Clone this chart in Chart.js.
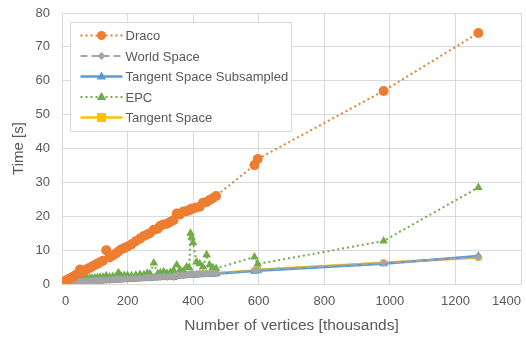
<!DOCTYPE html>
<html><head><meta charset="utf-8">
<script src="https://cdn.jsdelivr.net/npm/chart.js@4/dist/chart.umd.min.js"></script>
<style>html,body{margin:0;padding:0;background:#fff}#wrap{width:526px;height:341px}</style>
</head><body><div id="wrap"><canvas id="c" width="526" height="341"></canvas></div>
<script>
const vertices = [10,14,18,22,26,30,35,40,45,50,55,60,66,72,78,85,92,100,108,116,125,135,145,155,165,172,180,190,200,212,225,238,250,260,268,280,292,300,310,320,330,340,350,360,370,380,388,392,395,400,410,420,430,441,450,460,470,587,597,981,1270];
const draco = [0.8,1.1,1.3,1.5,1.7,1.9,2.2,2.5,2.8,3.0,4.3,3.5,3.8,4.1,4.5,4.8,5.2,5.6,6.0,6.4,6.9,10.0,7.8,8.4,9.1,9.6,10.2,10.6,11.1,11.7,12.6,13.4,14.2,14.6,15.0,16.0,16.3,17.2,17.6,17.8,18.3,18.8,20.8,20.5,21.4,21.5,21.8,22.0,22.2,22.3,22.6,22.8,24.0,24.2,24.8,25.3,26.0,35.1,36.9,57.0,74.1];
const worldSpace = [0.3,0.4,0.4,0.5,0.5,0.5,0.6,0.6,0.6,0.7,0.7,0.7,0.8,0.8,0.8,0.9,0.9,1.0,1.0,1.1,1.1,1.2,1.2,1.3,1.3,1.4,1.4,1.5,1.5,1.6,1.7,1.7,1.8,1.9,1.9,2.0,2.0,2.1,2.2,2.1,2.2,2.1,2.5,2.6,2.6,2.7,2.8,2.8,2.8,2.9,2.9,3.0,3.0,3.1,3.1,3.2,3.2,4.0,4.2,6.2,7.9];
const subsampled = [0.2,0.2,0.3,0.3,0.3,0.4,0.4,0.4,0.5,0.5,0.5,0.6,0.6,0.6,0.7,0.7,0.8,0.8,0.9,0.9,1.0,1.0,1.1,1.1,1.2,1.2,1.3,1.3,1.4,1.4,1.5,1.6,1.6,1.7,1.7,1.8,1.9,1.9,2.0,1.9,2.0,1.9,2.3,2.4,2.4,2.5,2.5,2.6,2.6,2.6,2.7,2.7,2.8,2.8,2.9,2.9,3.0,3.8,3.9,6.0,8.3];
const epc = [0.6,0.7,0.8,0.9,1.0,1.0,1.1,1.2,1.2,1.3,1.4,1.4,1.5,1.5,1.6,1.7,1.7,1.8,1.9,2.0,2.0,2.4,2.1,2.2,2.3,3.3,2.4,2.5,2.5,2.4,2.6,2.8,2.7,3.2,3.0,6.2,3.0,3.3,3.6,3.2,3.4,4.0,5.6,4.2,3.8,5.0,4.8,15.0,13.8,12.2,6.5,6.0,5.0,8.6,5.6,4.8,4.6,8.0,5.9,12.7,28.5];
const tangentSpace = [0.3,0.4,0.4,0.5,0.5,0.5,0.6,0.6,0.6,0.7,0.7,0.7,0.8,0.8,0.8,0.9,0.9,1.0,1.0,1.1,1.1,1.2,1.2,1.3,1.3,1.4,1.4,1.5,1.5,1.6,1.7,1.7,1.8,1.9,1.9,2.0,2.0,2.1,2.2,2.1,2.2,2.1,2.5,2.6,2.6,2.7,2.8,2.8,2.8,2.9,2.9,3.0,3.0,3.1,3.1,3.2,3.2,4.0,4.2,6.3,7.8];
const seriesNames = ['Draco','World Space','Tangent Space Subsampled','EPC','Tangent Space'];
const xTicks = [0,200,400,600,800,1000,1200,1400];
const yTicks = [0,10,20,30,40,50,60,70,80];

const FONT = "'Liberation Sans', Arial, sans-serif";
const pts = arr => vertices.map((v,i)=>({x:v,y:arr[i]}));

const styles = [
  {color:'#ED7D31', dash:[2,3], width:2, pt:'circle', r:5},
  {color:'#A5A5A5', dash:[7,4], width:2, pt:'rectRot', r:4},
  {color:'#5B9BD5', dash:[], width:2.5, pt:'triangle', r:5},
  {color:'#70AD47', dash:[2,3], width:2, pt:'triangle', r:5},
  {color:'#FFC000', dash:[], width:2.5, pt:'rect', r:4.5}
];
const series = [draco, worldSpace, subsampled, epc, tangentSpace];

const datasets = series.map((s,i)=>({
  label: seriesNames[i],
  data: pts(s),
  borderColor: styles[i].color,
  backgroundColor: styles[i].color,
  borderDash: styles[i].dash,
  borderWidth: styles[i].width,
  pointStyle: styles[i].pt,
  pointRadius: styles[i].r,
  pointBorderWidth: 0,
  pointBackgroundColor: styles[i].color,
  showLine: true,
  tension: 0,
  fill: false
}));

function drawMarker(ctx, type, x, y, r, color){
  ctx.save();
  ctx.fillStyle = color;
  ctx.setLineDash([]);
  ctx.beginPath();
  if(type==='circle'){ ctx.arc(x,y,r,0,Math.PI*2); }
  else if(type==='rect'){ ctx.rect(x-r,y-r,2*r,2*r); }
  else if(type==='rectRot'){ ctx.moveTo(x,y-r); ctx.lineTo(x+r,y); ctx.lineTo(x,y+r); ctx.lineTo(x-r,y); ctx.closePath(); }
  else if(type==='triangle'){ ctx.moveTo(x,y-r); ctx.lineTo(x+r*0.95,y+r*0.6); ctx.lineTo(x-r*0.95,y+r*0.6); ctx.closePath(); }
  ctx.fill();
  ctx.restore();
}

const legendPlugin = {
  id:'boxLegend',
  afterDraw(chart){
    const ctx = chart.ctx;
    const a = chart.chartArea;
    const bx = a.left + 8.5, by = a.top + 9.5, bw = 221, bh = 109;
    ctx.save();
    ctx.fillStyle = '#fff';
    ctx.fillRect(bx,by,bw,bh);
    ctx.strokeStyle = '#d9d9d9';
    ctx.lineWidth = 1;
    ctx.strokeRect(bx,by,bw,bh);
    ctx.font = '13px ' + FONT;
    ctx.textBaseline = 'middle';
    ctx.textAlign = 'left';
    seriesNames.forEach((name,i)=>{
      const st = styles[i];
      const y = by + 13 + i*20.5;
      const x0 = bx + 10, x1 = bx + 52;
      ctx.save();
      ctx.strokeStyle = st.color;
      ctx.lineWidth = st.width;
      ctx.setLineDash(st.dash);
      ctx.beginPath(); ctx.moveTo(x0,y); ctx.lineTo(x1,y); ctx.stroke();
      ctx.restore();
      drawMarker(ctx, st.pt, (x0+x1)/2, y, i===0 ? 4.5 : st.r, st.color);
      ctx.fillStyle = '#595959';
      ctx.fillText(name, x1 + 3, y + 1);
    });
    ctx.restore();
  }
};

new Chart(document.getElementById('c'), {
  type: 'scatter',
  data: { datasets },
  options: {
    responsive: false,
    animation: false,
    layout: { padding: { top: 13, right: 3, left: 0, bottom: 0 } },
    plugins: { legend: { display: false }, tooltip: { enabled: false } },
    scales: {
      x: {
        type: 'linear', min: 0, max: 1400,
        afterBuildTicks: s => { s.ticks = xTicks.map(v=>({value:v})); },
        afterFit: s => { s.height = 57; },
        grid: { color: '#d9d9d9', lineWidth: 1, drawTicks: true, tickLength: 10, tickColor: 'rgba(0,0,0,0)' },
        border: { color: '#d9d9d9' },
        ticks: { color: '#595959', font: { size: 13, family: FONT }, padding: 0, maxRotation: 0, align: 'inner', callback: v => String(v) },
        title: { display: true, text: 'Number of vertices [thousands]', color: '#595959', font: { size: 15.5, family: FONT }, padding: { top: 4, bottom: 6 } }
      },
      y: {
        type: 'linear', min: 0, max: 80,
        afterBuildTicks: s => { s.ticks = yTicks.map(v=>({value:v})); },
        afterFit: s => { s.width = 62; },
        grid: { color: '#d9d9d9', lineWidth: 1, drawTicks: true, tickLength: 12, tickColor: 'rgba(0,0,0,0)' },
        border: { color: '#d9d9d9' },
        ticks: { color: '#595959', font: { size: 13, family: FONT }, padding: 0, callback: v => String(v) },
        title: { display: true, text: 'Time [s]', color: '#595959', font: { size: 15, family: FONT }, padding: { top: 10, bottom: 0 } }
      }
    }
  },
  plugins: [legendPlugin]
});
</script>
</body></html>
